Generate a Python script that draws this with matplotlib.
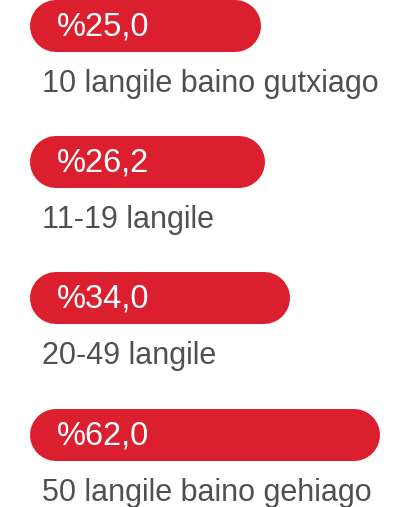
import matplotlib
matplotlib.use("Agg")
import matplotlib.pyplot as plt

categories = ["10 langile baino gutxiago", "11-19 langile", "20-49 langile",
              "50 langile baino gehiago"]
values = [25.0, 26.2, 34.0, 62.0]
value_labels = ["%25,0", "%26,2", "%34,0", "%62,0"]

RED = "#dc1f2e"
GREY = "#505050"
W, H, DPI = 404, 507, 100
FONT = ["Liberation Sans", "DejaVu Sans"]

fig = plt.figure(figsize=(W / DPI, H / DPI), dpi=DPI)
ax = fig.add_axes([0, 0, 1, 1])
ax.axis("off")

# x in value units (bars have a fixed stub on the left), y in pixel rows
xmin, xmax = -56.0, 69.5
ax.set_xlim(xmin, xmax)
ax.set_ylim(H, 0)
px = W / (xmax - xmin)          # pixels per value unit
bar_left = xmin + 30 / px
bar_h = 52                      # pixels
r = bar_h / 2 / px              # cap radius in value units
lw = bar_h * 72 / DPI

for i, (cat, v, lab) in enumerate(zip(categories, values, value_labels)):
    yc = 26 + i * 136.2
    ax.plot([bar_left + r, v - r], [yc, yc], color=RED, lw=lw,
            solid_capstyle="round")
    ax.text(bar_left + 27 / px, yc + 1, lab, color="white", fontsize=23.5,
            fontfamily=FONT, va="center", ha="left")
    ax.text(bar_left + 12 / px, yc + 58, cat, color=GREY, fontsize=22,
            fontfamily=FONT, va="center", ha="left")

fig.savefig("out.png", dpi=DPI)
